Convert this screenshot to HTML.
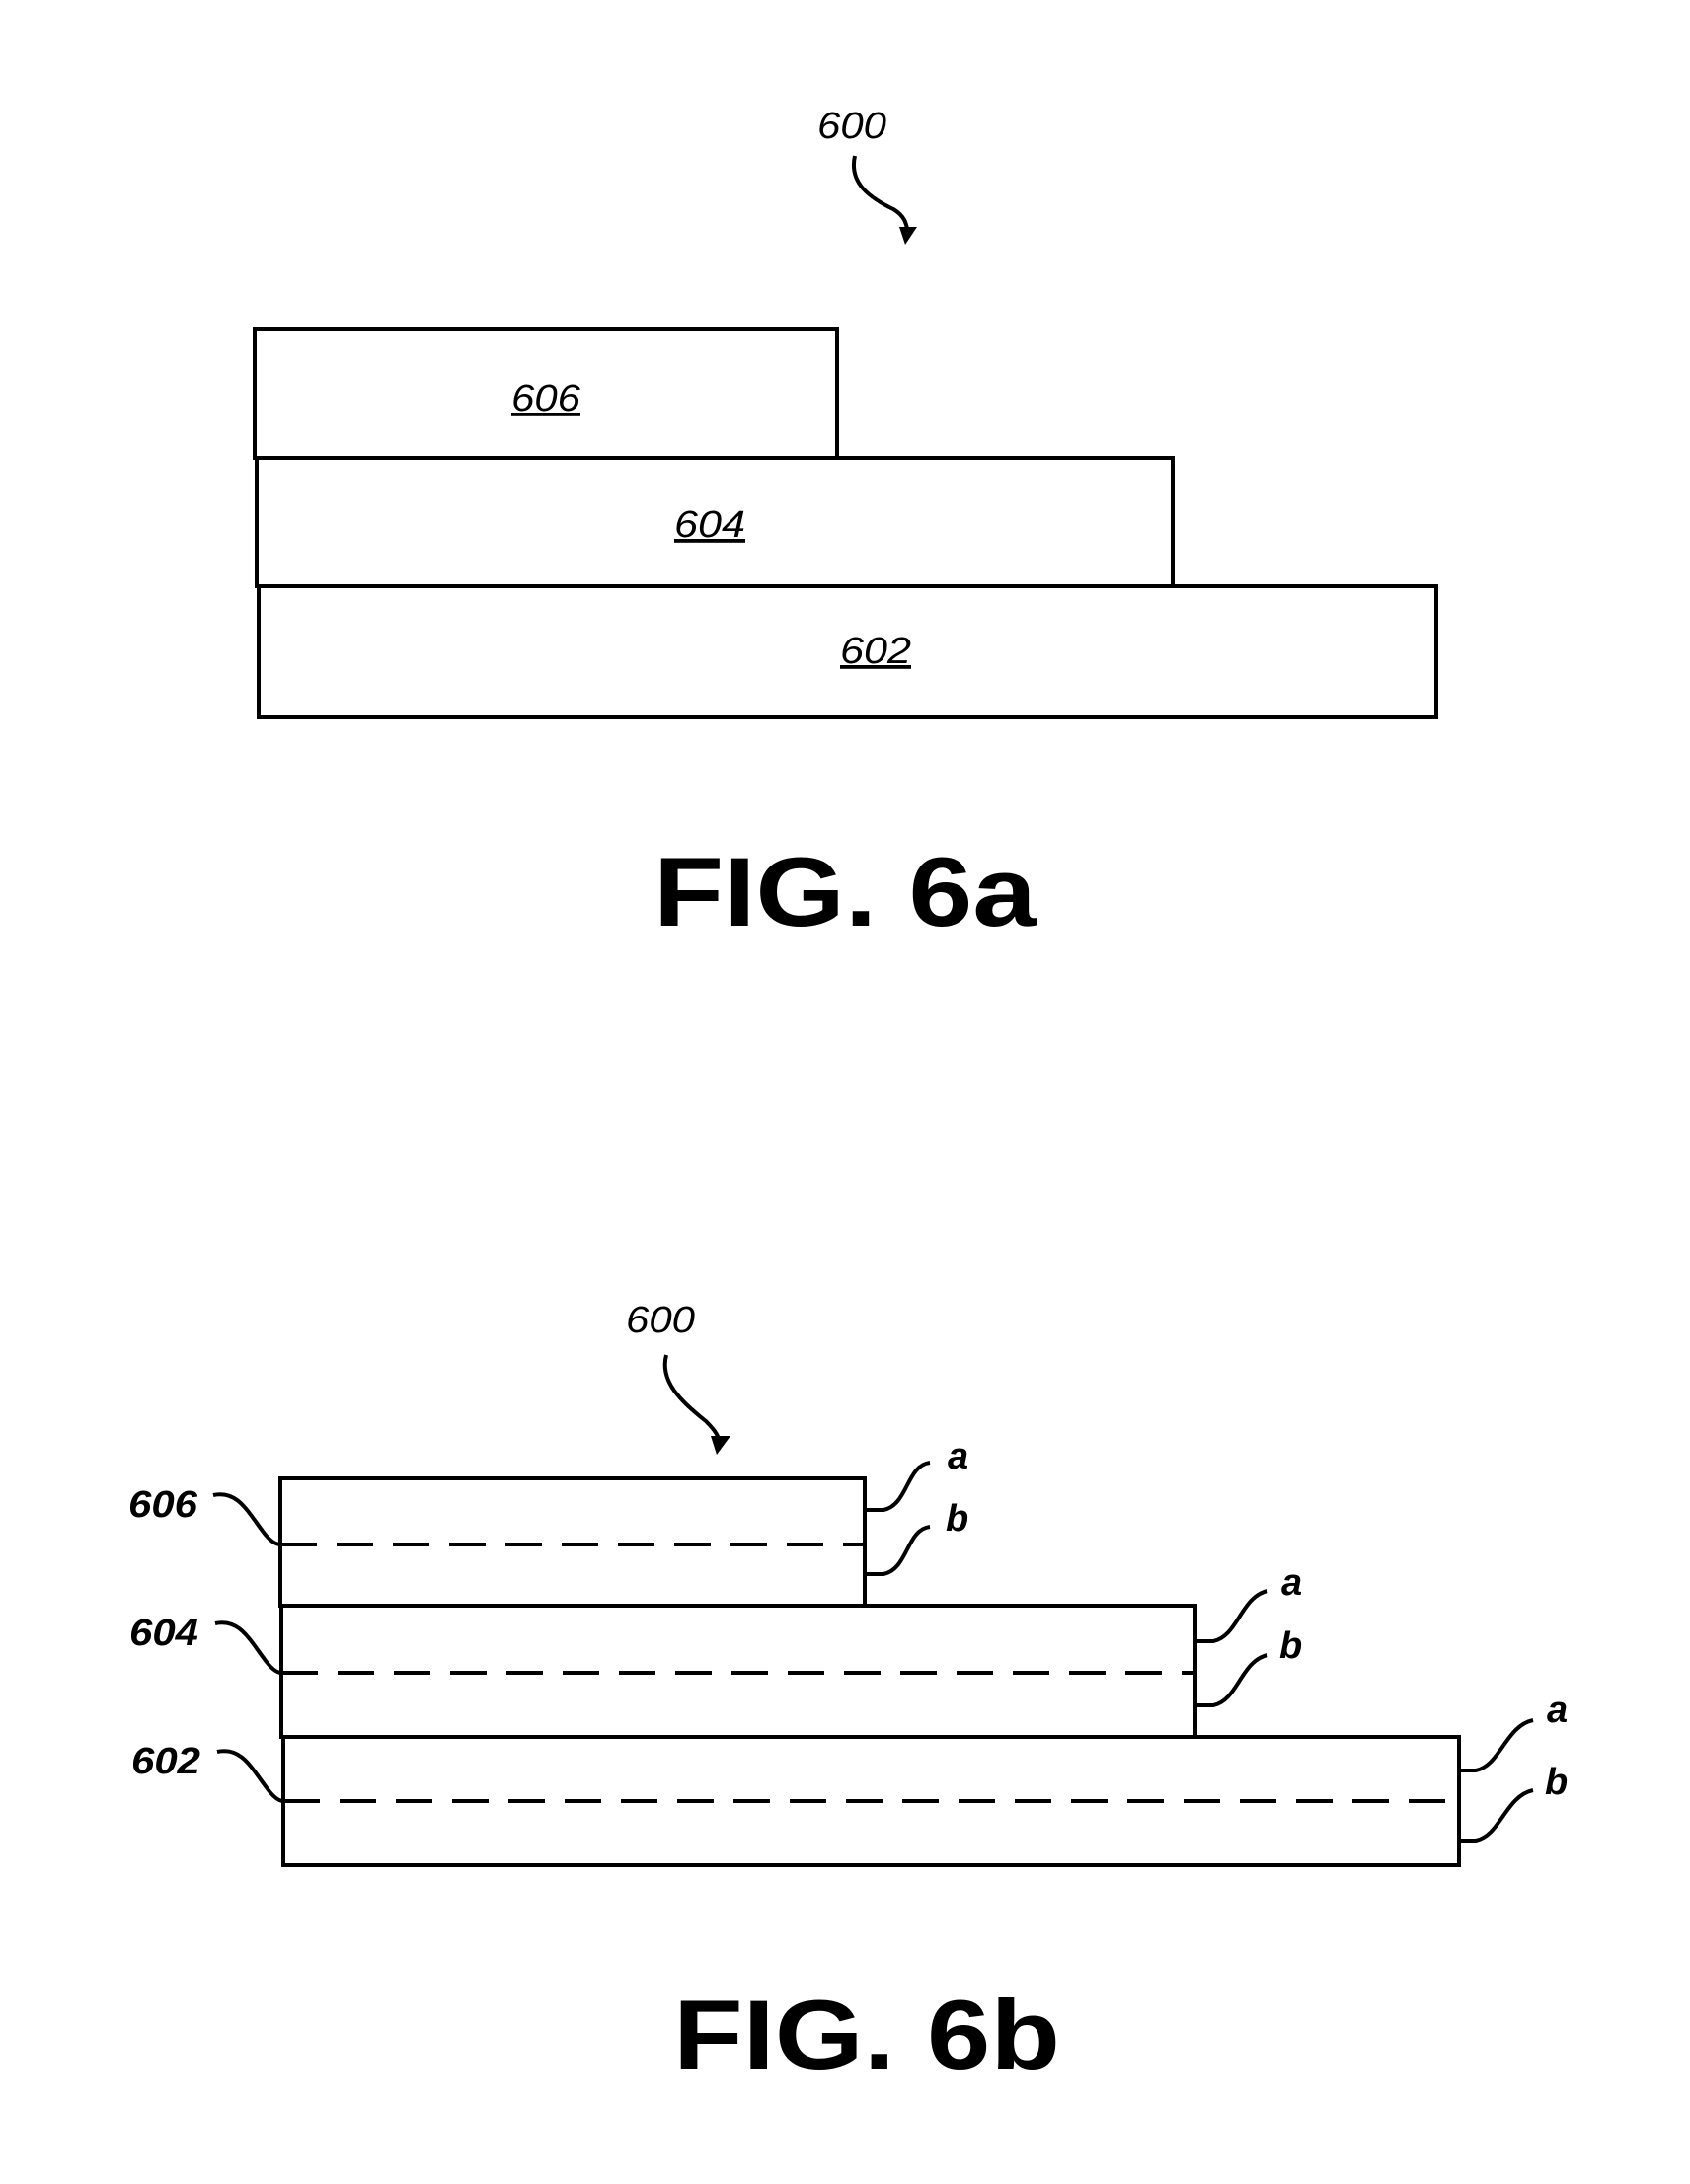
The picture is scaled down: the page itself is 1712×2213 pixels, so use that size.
<!DOCTYPE html>
<html><head><meta charset="utf-8"><style>html,body{margin:0;padding:0;background:#fff}svg{display:block}</style></head>
<body>
<svg width="1712" height="2213" viewBox="0 0 1712 2213" xmlns="http://www.w3.org/2000/svg">
<g fill="none" stroke="#000" stroke-width="4">
<!-- FIG 6a -->
<rect x="258" y="333" width="590" height="131"/>
<rect x="260" y="464" width="928" height="130"/>
<rect x="262" y="594" width="1193" height="133"/>
<path d="M866 158 C 860 185, 880 200, 905 212 C 918 220, 918 228, 920 236"/>
<!-- FIG 6b -->
<rect x="284" y="1498" width="592" height="129"/>
<rect x="285" y="1627" width="926" height="133"/>
<rect x="287" y="1760" width="1191" height="130"/>
<g stroke-dasharray="37 20" stroke-width="4">
<line x1="284" y1="1565" x2="876" y2="1565"/>
<line x1="285" y1="1695" x2="1211" y2="1695"/>
<line x1="287" y1="1825" x2="1478" y2="1825"/>
</g>
<path d="M675 1373 C 668 1400, 690 1420, 715 1440 C 725 1450, 728 1455, 730 1465"/>
<!-- left leaders -->
<path d="M216 1515 C 240 1510, 250 1530, 265 1550 C 272 1560, 278 1565, 284 1565"/>
<path d="M218 1645 C 242 1640, 252 1660, 267 1680 C 274 1690, 280 1695, 285 1695"/>
<path d="M220 1775 C 244 1770, 254 1790, 269 1810 C 276 1820, 282 1825, 287 1825"/>
<!-- right brackets -->
<path d="M876 1530 H895 C 920 1525, 918 1485, 942 1482"/>
<path d="M876 1595 H895 C 920 1590, 918 1550, 942 1547"/>
<path d="M1211 1663 H1229 C 1254 1658, 1257 1618, 1284 1612"/>
<path d="M1211 1728 H1229 C 1254 1723, 1257 1683, 1284 1677"/>
<path d="M1478 1794 H1495 C 1520 1789, 1525 1749, 1553 1743"/>
<path d="M1478 1865 H1495 C 1520 1860, 1525 1820, 1553 1814"/>
</g>
<g fill="#000">
<polygon points="911,230 929,230 917,248"/>
<polygon points="720,1455 740,1455 726,1474"/>
</g>
<g font-family="Liberation Sans, sans-serif" font-style="italic" font-size="38" fill="#000">
<text x="828" y="140" textLength="70" lengthAdjust="spacingAndGlyphs">600</text>
<text x="518" y="416" textLength="70" lengthAdjust="spacingAndGlyphs" text-decoration="underline">606</text>
<text x="683" y="544" textLength="72" lengthAdjust="spacingAndGlyphs" text-decoration="underline">604</text>
<text x="851" y="672" textLength="72" lengthAdjust="spacingAndGlyphs" text-decoration="underline">602</text>
<text x="634" y="1350" textLength="70" lengthAdjust="spacingAndGlyphs">600</text>
<g font-weight="bold">
<text x="130" y="1537" textLength="70" lengthAdjust="spacingAndGlyphs">606</text>
<text x="131" y="1667" textLength="70" lengthAdjust="spacingAndGlyphs">604</text>
<text x="133" y="1797" textLength="70" lengthAdjust="spacingAndGlyphs">602</text>
<text x="960" y="1488">a</text>
<text x="958" y="1551">b</text>
<text x="1298" y="1616">a</text>
<text x="1296" y="1680">b</text>
<text x="1567" y="1745">a</text>
<text x="1565" y="1818">b</text>
</g>
</g>
<g font-family="Liberation Sans, sans-serif" font-weight="bold" font-size="99" fill="#000">
<text x="662" y="938" textLength="388" lengthAdjust="spacingAndGlyphs">FIG. 6a</text>
<text x="682" y="2096" textLength="392" lengthAdjust="spacingAndGlyphs">FIG. 6b</text>
</g>
</svg>
</body></html>
